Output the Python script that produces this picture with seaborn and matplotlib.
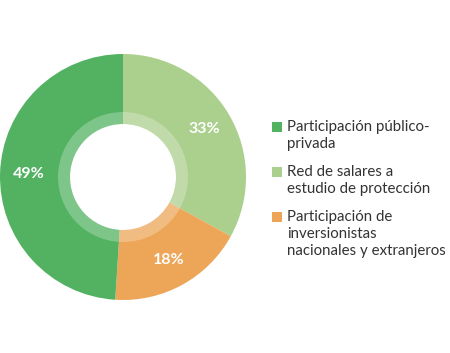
import matplotlib
matplotlib.use("Agg")
import matplotlib.pyplot as plt
import seaborn as sns
import numpy as np
from matplotlib.patches import Rectangle

categories = ["Red de salares a\nestudio de protección",
              "Participación de\ninversionistas\nnacionales y extranjeros",
              "Participación público-\nprivada"]
values = [33, 18, 49]
colors = ["#abcf8d", "#eda658", "#52b262"]
legend_order = [2, 0, 1]

sns.set_theme(style="white")
plt.rcParams['font.family'] = ['Lato', 'DejaVu Sans']

W, H = 450, 353
fig = plt.figure(figsize=(W / 100, H / 100), dpi=100)
ax = fig.add_axes([0, 53 / H, 246 / W, 246 / H])
ax.set_aspect("equal")

wedges, texts = ax.pie(values, colors=colors, startangle=90, counterclock=False,
                       radius=1.0, wedgeprops=dict(width=1 - 53 / 123, linewidth=0))
# lighter inner band
ax.pie(values, colors=["white"] * len(values), startangle=90, counterclock=False,
       radius=65 / 123, wedgeprops=dict(width=12 / 123, linewidth=0, alpha=0.25))

start = 90.0
total = sum(values)
for v in values:
    ang = np.deg2rad(start - v / total * 180)
    r = 0.77
    ax.text(r * np.cos(ang), r * np.sin(ang), f"{v}%", color="white",
            fontsize=11.5, fontweight="bold", ha="center", va="center")
    start -= v / total * 360
ax.set_xlim(-1, 1)
ax.set_ylim(-1, 1)
ax.axis("off")

# legend, drawn by hand
y0 = 127
for i in legend_order:
    fig.patches.append(Rectangle((272 / W, 1 - (y0 + 5) / H), 10 / W, 10 / H,
                                 transform=fig.transFigure, facecolor=colors[i],
                                 edgecolor="none"))
    lines = categories[i].split("\n")
    for j, line in enumerate(lines):
        fig.text(287 / W, 1 - (y0 + j * 17) / H, line, fontsize=10.8,
                 color="#333333", ha="left", va="center")
    y0 += len(lines) * 17 + 11

fig.savefig("out.png", dpi=100, facecolor="white")
